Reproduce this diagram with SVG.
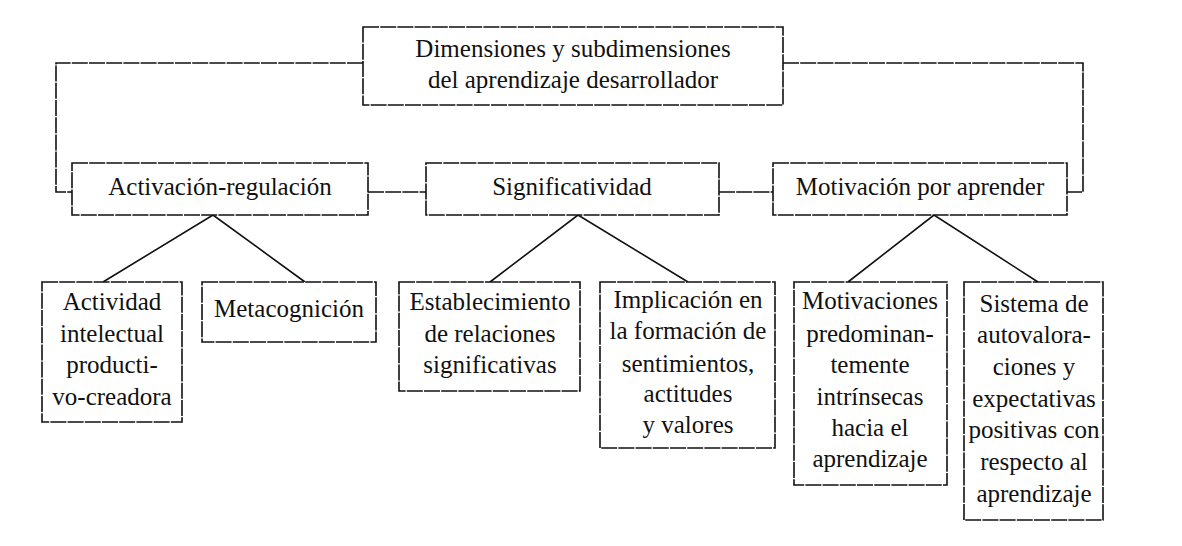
<svg xmlns="http://www.w3.org/2000/svg" width="1182" height="546" viewBox="0 0 1182 546">
<style>
.box{fill:#fff;stroke:#111;stroke-width:1.6;stroke-dasharray:16 1.2}
.link{fill:none;stroke:#111;stroke-width:1.6;stroke-dasharray:16 1.2}
.diag{fill:none;stroke:#111;stroke-width:1.6}
</style>
<rect width="1182" height="546" fill="#fff"/>
<g id="connectors">
<polyline class="link" points="363,63 56,63 56,192 72,192"/>
<polyline class="link" points="783,63 1083,63 1083,192 1067,192"/>
<line class="link" x1="368" y1="192" x2="426" y2="192"/>
<line class="link" x1="719" y1="192" x2="773" y2="192"/>
<polyline class="diag" points="103,282 213,215 305,282"/>
<polyline class="diag" points="490,282 578,215 688,282"/>
<polyline class="diag" points="848,282 934,215 1038,282"/>
</g>
<g font-family="Liberation Serif, Times New Roman, serif" font-size="25" fill="#111" text-anchor="middle">
<g id="root">
<rect class="box" x="363" y="27" width="420" height="78"/>
<text x="573" y="57">Dimensiones y subdimensiones</text>
<text x="573" y="88">del aprendizaje desarrollador</text>
</g>
<g id="activacion">
<rect class="box" x="72" y="163" width="296" height="52"/>
<text x="220" y="195">Activación-regulación</text>
</g>
<g id="significatividad">
<rect class="box" x="426" y="163" width="293" height="52"/>
<text x="572" y="195">Significatividad</text>
</g>
<g id="motivacion">
<rect class="box" x="773" y="163" width="294" height="52"/>
<text x="920" y="195">Motivación por aprender</text>
</g>
<g id="actividad">
<rect class="box" x="42" y="282" width="140" height="140"/>
<text x="112" y="310">Actividad</text>
<text x="112" y="342">intelectual</text>
<text x="112" y="373">producti-</text>
<text x="112" y="405">vo-creadora</text>
</g>
<g id="metacognicion">
<rect class="box" x="202" y="282" width="174" height="60"/>
<text x="289" y="317">Metacognición</text>
</g>
<g id="establecimiento">
<rect class="box" x="399" y="282" width="181" height="109"/>
<text x="490" y="310">Establecimiento</text>
<text x="490" y="342">de relaciones</text>
<text x="490" y="373">significativas</text>
</g>
<g id="implicacion">
<rect class="box" x="600" y="282" width="175" height="166"/>
<text x="688" y="308">Implicación en</text>
<text x="688" y="339">la formación de</text>
<text x="688" y="372">sentimientos,</text>
<text x="688" y="402">actitudes</text>
<text x="688" y="433">y valores</text>
</g>
<g id="motivaciones">
<rect class="box" x="794" y="282" width="153" height="203"/>
<text x="870" y="309">Motivaciones</text>
<text x="870" y="342">predominan-</text>
<text x="870" y="373">temente</text>
<text x="870" y="405">intrínsecas</text>
<text x="870" y="436">hacia el</text>
<text x="870" y="467">aprendizaje</text>
</g>
<g id="sistema">
<rect class="box" x="964" y="282" width="139" height="238"/>
<text x="1034" y="312">Sistema de</text>
<text x="1034" y="343">autovalora-</text>
<text x="1034" y="375">ciones y</text>
<text x="1034" y="407">expectativas</text>
<text x="1034" y="438">positivas con</text>
<text x="1034" y="470">respecto al</text>
<text x="1034" y="502">aprendizaje</text>
</g>
</g>
</svg>
